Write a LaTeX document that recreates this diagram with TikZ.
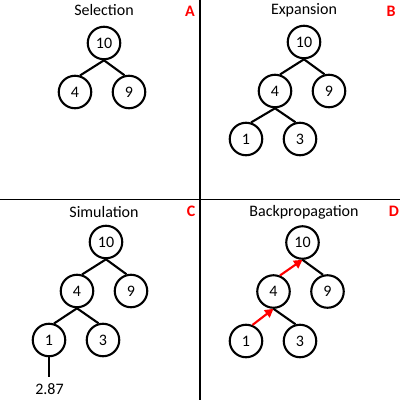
\documentclass[tikz,border=0pt]{standalone}
\usepackage{fontspec}
\setmainfont{Carlito}
\usetikzlibrary{arrows.meta}
\begin{document}
\begin{tikzpicture}[x=1pt,y=-1pt,
  tnode/.style={circle,draw=black,line width=2.1pt,minimum size=32.5pt,inner sep=0pt,font=\fontsize{16}{18}\selectfont},
  edge/.style={line width=2.1pt,black},
  redarrow/.style={line width=2.1pt,red,-{Triangle[length=8.5pt,width=9pt]}},
  title/.style={font=\fontsize{16}{18}\selectfont},
  tag/.style={font=\fontsize{16}{18}\selectfont\bfseries,text=red},
  divider/.style={line width=1.8pt,black}]
\useasboundingbox (0,0) rectangle (400,400);
\coordinate (vt) at (200,0);
\coordinate (vb) at (200,400);
\coordinate (hl) at (0,199.5);
\coordinate (hr) at (400,199.5);
\draw[divider] (vt) -- (vb);
\draw[divider] (hl) -- (hr);

% A
\node[title] (ta) at (104,10) {Selection};
\node[tag] (la) at (190,11) {A};
\node[tnode] (a10) at (104,43) {10};
\node[tnode] (a4) at (75,92) {4};
\node[tnode] (a9) at (129,92) {9};
\draw[edge] (a10.south) -- (a4.73);
\draw[edge] (a10.south) -- (a9.105);

% B
\node[title] (tb) at (304,10) {Expansion};
\node[tag] (lb) at (391,11) {B};
\node[tnode] (b10) at (304,42) {10};
\node[tnode] (b4) at (275,91) {4};
\node[tnode] (b9) at (329,91) {9};
\node[tnode] (b1) at (246,139) {1};
\node[tnode] (b3) at (300,139) {3};
\draw[edge] (b10.south) -- (b4.73);
\draw[edge] (b10.south) -- (b9.105);
\draw[edge] (b4.south) -- (b1.73);
\draw[edge] (b4.south) -- (b3.105);

% C
\node[title] (tc) at (104,212) {Simulation};
\node[tag] (lc) at (191,211) {C};
\node[tnode] (c10) at (106,242) {10};
\node[tnode] (c4) at (77,291) {4};
\node[tnode] (c9) at (131,291) {9};
\node[tnode] (c1) at (49,340) {1};
\node[tnode] (c3) at (103,340) {3};
\draw[edge] (c10.south) -- (c4.73);
\draw[edge] (c10.south) -- (c9.105);
\draw[edge] (c4.south) -- (c1.73);
\draw[edge] (c4.south) -- (c3.105);
\coordinate (cend) at (49,377);
\draw[edge] (c1.south) -- (cend);
\node[title,inner sep=0pt] (val) at (49.5,389) {2.87};

% D
\node[title] (td) at (304,212) {Backpropagation};
\node[tag] (ld) at (394,211) {D};
\node[tnode] (d10) at (302.5,242.5) {10};
\node[tnode] (d4) at (273.5,291.5) {4};
\node[tnode] (d9) at (327.5,291.5) {9};
\node[tnode] (d1) at (246,341) {1};
\node[tnode] (d3) at (300,341) {3};
\draw[edge] (d10.south) -- (d9.105);
\draw[edge] (d4.south) -- (d3.105);
\draw[redarrow] (d1.68) -- (d4.south);
\draw[redarrow] (d4.68) -- (d10.south);
\end{tikzpicture}
\end{document}
